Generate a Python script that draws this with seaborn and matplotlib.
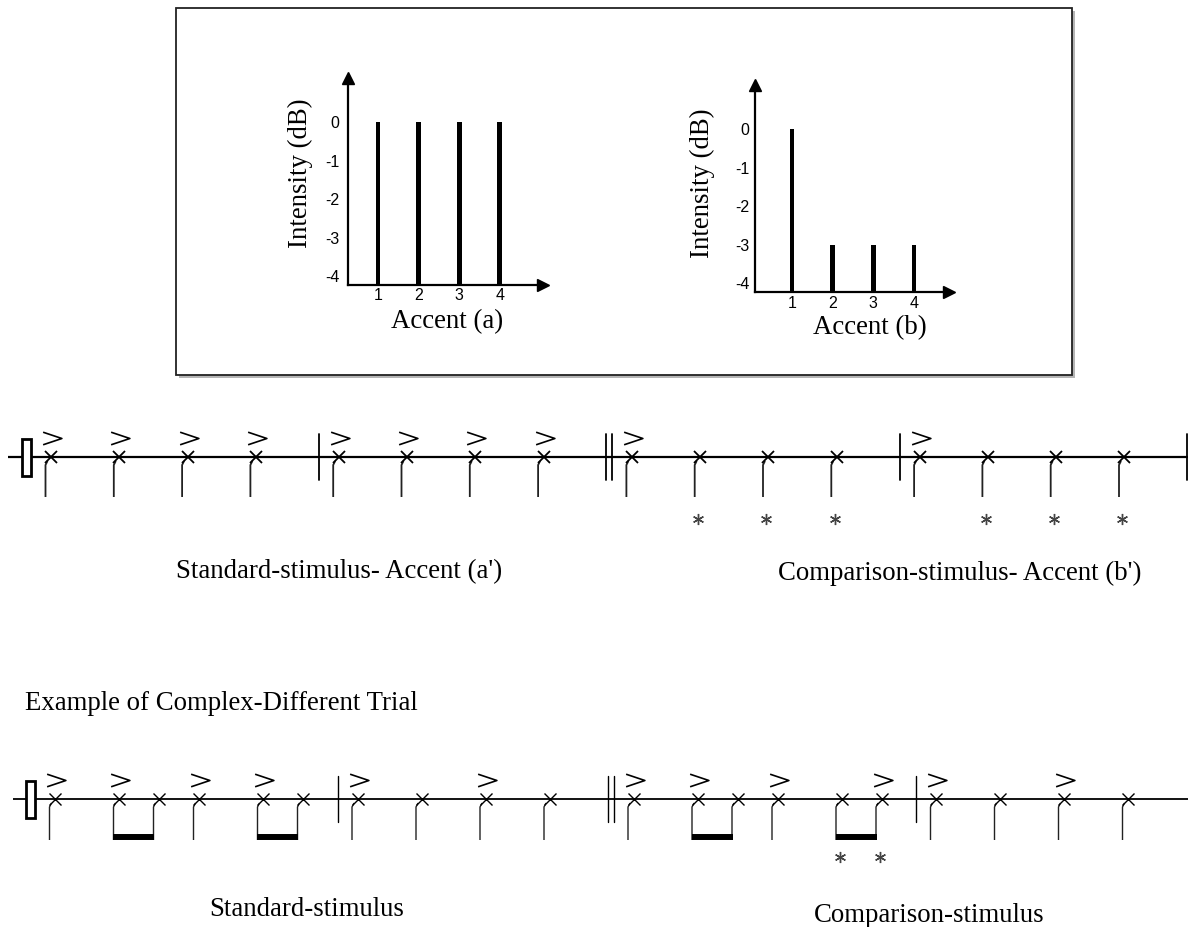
import matplotlib
matplotlib.use("Agg")
import matplotlib.pyplot as plt
from matplotlib.path import Path
from matplotlib.patches import Rectangle
import seaborn as sns

# ---------------- data: intensity profiles ----------------
accent_positions = ["1", "2", "3", "4"]
intensity_a = [0, 0, 0, 0]
intensity_b = [0, -3, -3, -3]
intensity_ticks = [0, -1, -2, -3, -4]

# ---------------- data: rhythm lines ----------------
# durations in beats per measure, accent flags, target (*) flags, barline after measure
line1_durations = [[1, 1, 1, 1], [1, 1, 1, 1], [1, 1, 1, 1], [1, 1, 1, 1]]
line1_accents = [[1, 1, 1, 1], [1, 1, 1, 1], [1, 0, 0, 0], [1, 0, 0, 0]]
line1_targets = [[0, 0, 0, 0], [0, 0, 0, 0], [0, 1, 1, 1], [0, 1, 1, 1]]
line1_bars = ["single", "double", "single", "single"]

line2_durations = [[1, .5, .5, 1, .5, .5], [1, 1, 1, 1], [1, .5, .5, 1, .5, .5], [1, 1, 1, 1]]
line2_accents = [[1, 1, 0, 1, 1, 0], [1, 0, 1, 0], [1, 1, 0, 1, 0, 1], [1, 0, 1, 0]]
line2_targets = [[0, 0, 0, 0, 0, 0], [0, 0, 0, 0], [0, 0, 0, 0, 1, 1], [0, 0, 0, 0]]
line2_bars = ["single", "double", "single", None]

texts = {
    "line1_left": "Standard-stimulus- Accent (a')",
    "line1_right": "Comparison-stimulus- Accent (b')",
    "trial": "Example of Complex-Different Trial",
    "line2_left": "Standard-stimulus",
    "line2_right": "Comparison-stimulus",
}

# ---------------- figure ----------------
W, H = 1188, 927
sns.set_theme(style="white")
plt.rcParams["font.family"] = ["Liberation Serif", "DejaVu Serif"]
plt.rcParams["text.color"] = "black"
plt.rcParams["axes.labelcolor"] = "black"
plt.rcParams["xtick.color"] = "black"
plt.rcParams["ytick.color"] = "black"
SERIF = 19.3
SANS = ["Liberation Sans", "DejaVu Sans"]

fig = plt.figure(figsize=(W / 100, H / 100), dpi=100)
fig.patch.set_facecolor("white")
bg = fig.add_axes([0, 0, 1, 1])
bg.set_xlim(0, W)
bg.set_ylim(H, 0)
bg.axis("off")

# framed box with shadow
bg.add_patch(Rectangle((178.5, 10.5), 896, 367, fc="#b5b5b5", ec="none", zorder=1))
bg.add_patch(Rectangle((176, 8), 896, 367, fc="white", ec="#222222", lw=1.3, zorder=2))


def intensity_chart(rect_px, xl, values, label_x, lab_pos, ylab_pos, ypad, xpad):
    left, right, top, bottom = rect_px
    ax = fig.add_axes([left / W, 1 - bottom / H, (right - left) / W, (bottom - top) / H])
    ax.set_facecolor("none")
    base = -4.23
    px_per_db = 38.5
    heights = [v - base for v in values]
    sns.barplot(x=accent_positions, y=heights, order=accent_positions, color="black",
                width=0.12, saturation=1, linewidth=0, errorbar=None, ax=ax)
    ax.set_xlim(*xl)
    ax.set_ylim(0, (bottom - top) / px_per_db)
    ax.set_yticks([t - base for t in intensity_ticks])
    ax.set_yticklabels([str(t) for t in intensity_ticks])
    for sp in ["top", "right"]:
        ax.spines[sp].set_visible(False)
    for sp in ["left", "bottom"]:
        ax.spines[sp].set_linewidth(1.6)
        ax.spines[sp].set_color("black")
    ax.tick_params(axis="y", length=0, pad=ypad, labelsize=11.5, labelcolor="black")
    ax.tick_params(axis="x", length=0, pad=xpad, labelsize=11.5, labelcolor="black")
    for lab in ax.get_xticklabels() + ax.get_yticklabels():
        lab.set_fontfamily(SANS)
    ax.set_xlabel("")
    ax.set_ylabel("")
    ax.plot(1, 0, ">", color="black", ms=8, transform=ax.transAxes, clip_on=False)
    ax.plot(0, 1, "^", color="black", ms=8, transform=ax.transAxes, clip_on=False)
    bg.text(lab_pos[0], lab_pos[1], label_x, ha="center", va="center", fontsize=SERIF,
            color="black", zorder=5)
    bg.text(ylab_pos[0], ylab_pos[1], "Intensity (dB)", ha="center", va="center",
            rotation=90, fontsize=SERIF, color="black", zorder=5)
    return ax


intensity_chart((348, 543, 78, 285), (-0.737, 4.06), intensity_a, "Accent (a)",
                (447, 322), (300, 173), 6, 2)
intensity_chart((755, 949, 85, 292), (-0.909, 3.86), intensity_b, "Accent (b)",
                (870, 328), (702, 183), 4, 3)

# ---------------- rhythm notation ----------------
accent_marker = Path([(-1, 0.67), (1, 0), (-1, -0.67)], [Path.MOVETO, Path.LINETO, Path.LINETO])


def layout(durations, bars, x0, spacing):
    xs, barxs = [], []
    x = x0
    for m, durs in enumerate(durations):
        for i, d in enumerate(durs):
            xs.append(x)
            if i < len(durs) - 1:
                x += spacing[d]
        bx = x + spacing[durs[-1]] - 5.5
        kind = bars[m]
        if kind == "single":
            barxs.append([bx])
            x = bx + 20
        elif kind == "double":
            barxs.append([bx, bx + 5.5])
            x = bx + 5.5 + 20
        else:
            x = bx + 20
    return xs, barxs


def draw_line(y, durations, accents, targets, bars, x0, spacing, lw, stem_len,
              star_dy, line_start, line_end):
    xs, barxs = layout(durations, bars, x0, spacing)
    durs = [d for m in durations for d in m]
    accs = [a for m in accents for a in m]
    tgs = [t for m in targets for t in m]
    # staff line
    bg.plot([line_start, line_end], [y, y], color="black", lw=lw + 0.3, solid_capstyle="butt", zorder=3)
    # clef-like rectangle
    cx = xs[0] - 24.5
    bg.add_patch(Rectangle((cx - 4.5, y - 18.5), 9, 37, fc="white", ec="black", lw=2.0, zorder=4))
    # note heads
    bg.plot(xs, [y] * len(xs), "x", color="black", ms=9, mew=lw, zorder=5)
    # stems
    for x in xs:
        bg.plot([x - 5.5, x - 5.5, x - 3.5], [y + stem_len, y + 8, y + 4],
                color="#222222", lw=lw, zorder=4, solid_capstyle="butt")
    # beams for paired eighths
    i = 0
    while i < len(durs) - 1:
        if durs[i] == 0.5 and durs[i + 1] == 0.5:
            bg.plot([xs[i] - 6, xs[i + 1] - 5], [y + stem_len - 3, y + stem_len - 3],
                    color="black", lw=4.3, solid_capstyle="butt", zorder=4)
            i += 2
        else:
            i += 1
    # accents
    ax_ = [x + 1 for x, a in zip(xs, accs) if a]
    bg.plot(ax_, [y - 19] * len(ax_), linestyle="none", marker=accent_marker, ms=13.5,
            mfc="none", mec="black", mew=1.2, zorder=5)
    # targets
    tx = [x - 2 for x, t in zip(xs, tgs) if t]
    bg.plot(tx, [y + star_dy] * len(tx), linestyle="none", marker=(6, 2, 0), ms=8,
            mec="#444444", mew=1.0, zorder=5)
    # barlines
    for group in barxs:
        for bx in group:
            bg.plot([bx, bx], [y - 23, y + 23], color="black", lw=lw, zorder=4)


draw_line(457, line1_durations, line1_accents, line1_targets, line1_bars,
          51, {1: 68.3, 0.5: 40}, 1.3, 40, 62, 8, 1187.5)
draw_line(799, line2_durations, line2_accents, line2_targets, line2_bars,
          55, {1: 64, 0.5: 40}, 1.0, 41, 58, 13, 1188)

# ---------------- captions ----------------
bg.text(339, 572, texts["line1_left"], ha="center", va="center", fontsize=SERIF, color="black")
bg.text(960, 573, texts["line1_right"], ha="center", va="center", fontsize=SERIF, color="black")
bg.text(25, 703, texts["trial"], ha="left", va="center", fontsize=SERIF, color="black")
bg.text(306.5, 910, texts["line2_left"], ha="center", va="center", fontsize=SERIF, color="black")
bg.text(929, 915, texts["line2_right"], ha="center", va="center", fontsize=SERIF, color="black")

fig.savefig("out.png", dpi=100)
